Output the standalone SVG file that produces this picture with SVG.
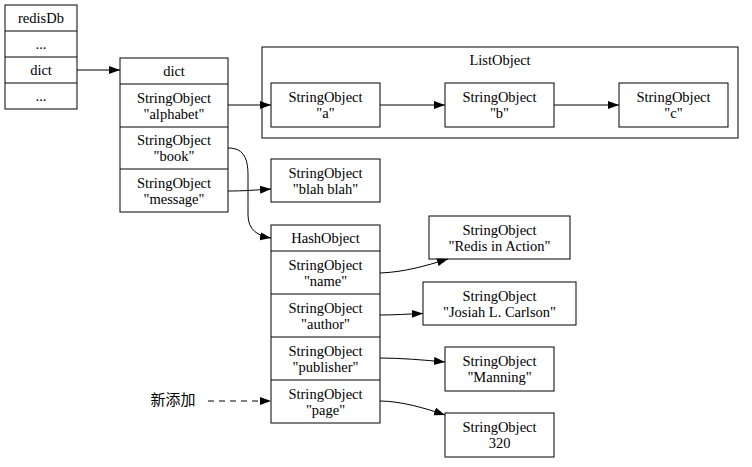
<svg xmlns="http://www.w3.org/2000/svg" width="752" height="467" viewBox="0 0 752 467">
<defs>
<marker id="arr" markerUnits="userSpaceOnUse" markerWidth="12" markerHeight="10" refX="11" refY="4" orient="auto">
<path d="M0,0 L11,4 L0,8 Z" fill="#000"/>
</marker>
<style>
rect, line.sep { fill: #fff; stroke: #000; stroke-width: 1; }
line.sep { fill: none; }
text { font-family: "Liberation Serif", "Noto Sans CJK SC", serif; font-size: 14.5px; fill: #000; text-anchor: middle; }
.edge { fill: none; stroke: #000; stroke-width: 1; marker-end: url(#arr); }
.dash { stroke-dasharray: 6,5; }
</style>
</defs>
<rect x="0" y="0" width="752" height="467" style="fill:#fff;stroke:none"/>

<g id="listobject">
<rect x="262" y="47" width="476" height="91"/>
<text x="500" y="65">ListObject</text>
</g>

<g id="redisDb">
<rect x="5" y="5" width="72" height="104"/>
<line class="sep" x1="5" y1="31" x2="77" y2="31"/>
<line class="sep" x1="5" y1="57" x2="77" y2="57"/>
<line class="sep" x1="5" y1="83" x2="77" y2="83"/>
<text x="41" y="23">redisDb</text>
<text x="41" y="49">...</text>
<text x="41" y="75">dict</text>
<text x="41" y="101">...</text>
</g>

<g id="dict">
<rect x="120" y="58" width="108" height="154"/>
<line class="sep" x1="120" y1="84" x2="228" y2="84"/>
<line class="sep" x1="120" y1="127" x2="228" y2="127"/>
<line class="sep" x1="120" y1="169" x2="228" y2="169"/>
<text x="174" y="76">dict</text>
<text x="174" y="102.5">StringObject</text>
<text x="174" y="118.5">"alphabet"</text>
<text x="174" y="145">StringObject</text>
<text x="174" y="161">"book"</text>
<text x="174" y="187.5">StringObject</text>
<text x="174" y="203.5">"message"</text>
</g>

<g id="node_a">
<rect x="271" y="83" width="109" height="44"/>
<text x="325.5" y="102">StringObject</text>
<text x="325.5" y="118">"a"</text>
</g>
<g id="node_b">
<rect x="445" y="83" width="109" height="44"/>
<text x="499.5" y="102">StringObject</text>
<text x="499.5" y="118">"b"</text>
</g>
<g id="node_c">
<rect x="619" y="83" width="109" height="44"/>
<text x="673.5" y="102">StringObject</text>
<text x="673.5" y="118">"c"</text>
</g>

<g id="node_blah">
<rect x="271" y="159" width="109" height="43"/>
<text x="325.5" y="177.5">StringObject</text>
<text x="325.5" y="193.5">"blah blah"</text>
</g>

<g id="hash">
<rect x="271" y="225" width="109" height="198"/>
<line class="sep" x1="271" y1="251" x2="380" y2="251"/>
<line class="sep" x1="271" y1="294" x2="380" y2="294"/>
<line class="sep" x1="271" y1="337" x2="380" y2="337"/>
<line class="sep" x1="271" y1="380" x2="380" y2="380"/>
<text x="325.5" y="243">HashObject</text>
<text x="325.5" y="269.5">StringObject</text>
<text x="325.5" y="285.5">"name"</text>
<text x="325.5" y="312.5">StringObject</text>
<text x="325.5" y="328.5">"author"</text>
<text x="325.5" y="355.5">StringObject</text>
<text x="325.5" y="371.5">"publisher"</text>
<text x="325.5" y="398.5">StringObject</text>
<text x="325.5" y="414.5">"page"</text>
</g>

<g id="node_redis_in_action">
<rect x="429" y="216" width="141" height="43"/>
<text x="499.5" y="234.5">StringObject</text>
<text x="499.5" y="250.5">"Redis in Action"</text>
</g>
<g id="node_josiah">
<rect x="423" y="282" width="153" height="43"/>
<text x="499.5" y="300.5">StringObject</text>
<text x="499.5" y="316.5">"Josiah L. Carlson"</text>
</g>
<g id="node_manning">
<rect x="445" y="347" width="109" height="44"/>
<text x="499.5" y="366">StringObject</text>
<text x="499.5" y="382">"Manning"</text>
</g>
<g id="node_320">
<rect x="445" y="413" width="109" height="44"/>
<text x="499.5" y="432">StringObject</text>
<text x="499.5" y="448">320</text>
</g>

<g id="new_label">
<text x="173" y="405" style="font-size:15px">新添加</text>
</g>

<g id="connectors">
<path class="edge" d="M77,70 L120,70"/>
<path class="edge" d="M228,105 L271,105"/>
<path class="edge" d="M380,105 L445,105"/>
<path class="edge" d="M554,105 L619,105"/>
<path class="edge" d="M228,191 C245,191 255,190 271,189"/>
<path class="edge" d="M228,148 C242,148 248,156 248,175 L248,215 C248,230 258,236 271,238"/>
<path class="edge" d="M380,273 C405,272 425,266 448,259"/>
<path class="edge" d="M380,315 C395,315 408,314 423,313.5"/>
<path class="edge" d="M380,358 C400,358 425,360 445,362"/>
<path class="edge" d="M380,401 C400,401 425,408 445,415"/>
<path class="edge dash" d="M208,401 L271,401"/>
</g>
</svg>
